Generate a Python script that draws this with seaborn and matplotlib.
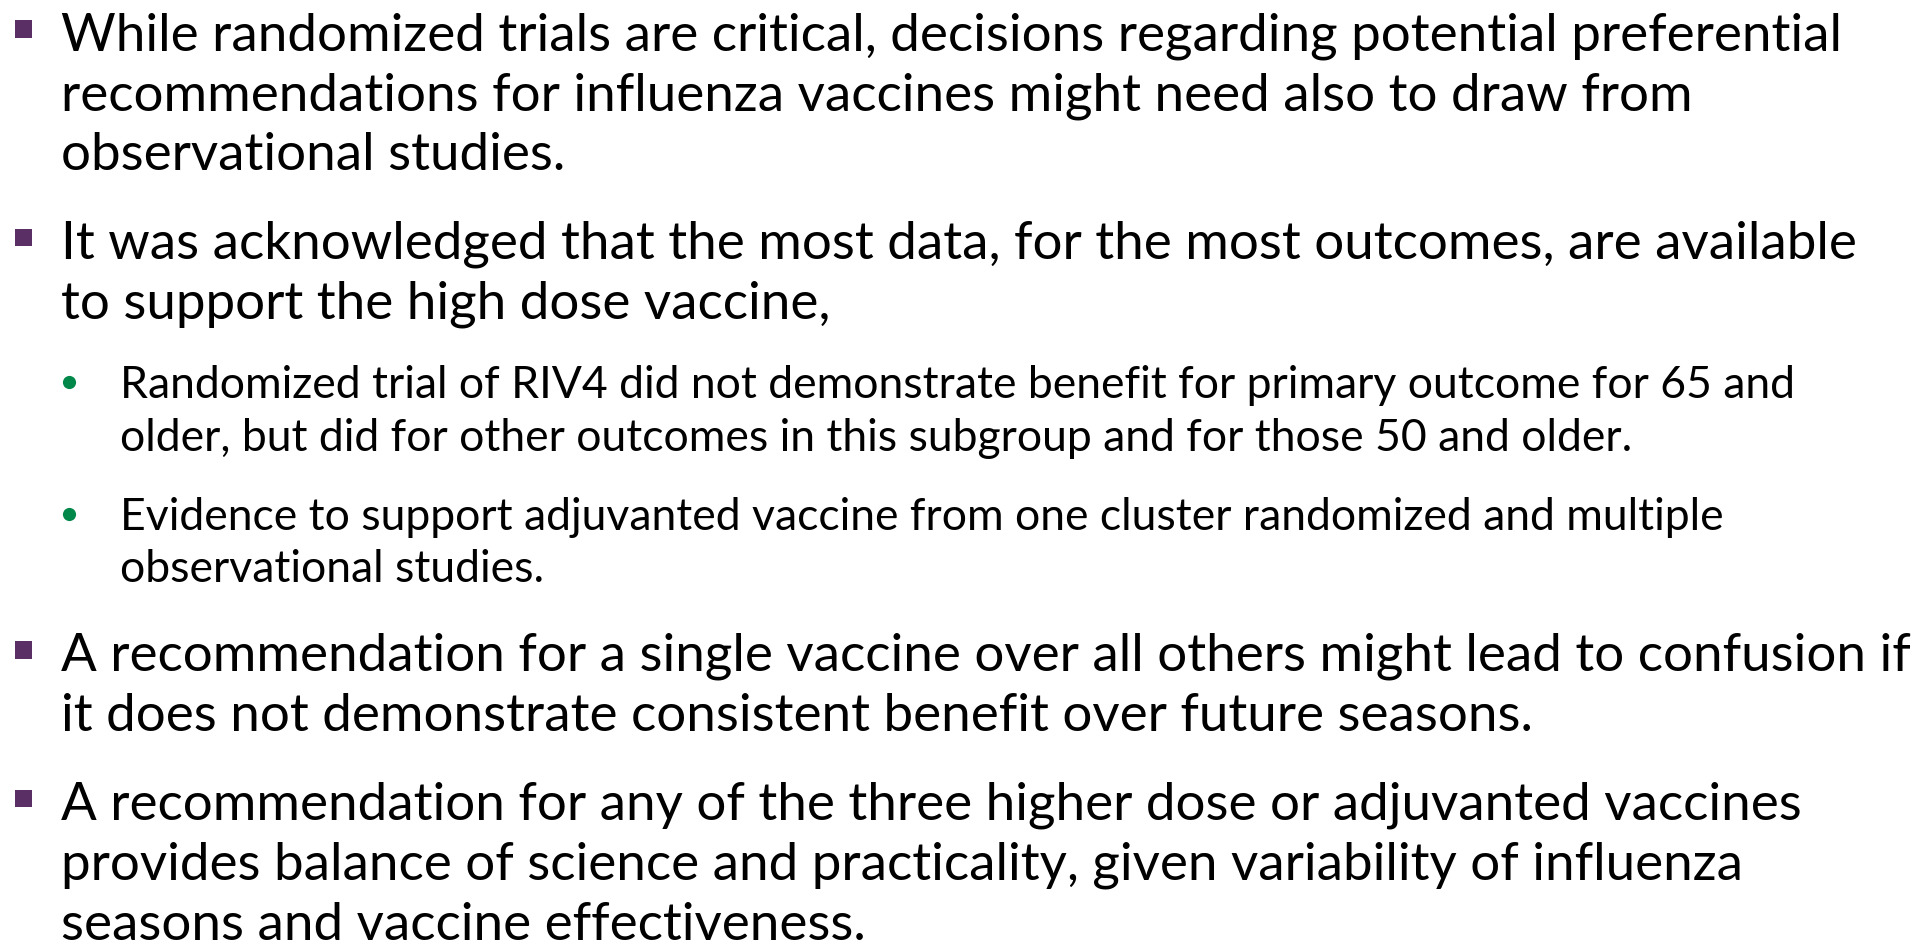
import matplotlib
matplotlib.use("Agg")
import matplotlib.pyplot as plt
import seaborn as sns
import pandas as pd

sns.set_theme(style="white")
plt.rcParams['font.family'] = ['Lato', 'DejaVu Sans']

# ---- content ----
para_levels = [1, 1, 2, 2, 1, 1]
para_1 = [
    "While randomized trials are critical, decisions regarding potential preferential",
    "recommendations for influenza vaccines might need also to draw from",
    "observational studies.",
]
para_2 = [
    "It was acknowledged that the most data, for the most outcomes, are available",
    "to support the high dose vaccine,",
]
para_3 = [
    "Randomized trial of RIV4 did not demonstrate benefit for primary outcome for 65 and",
    "older, but did for other outcomes in this subgroup and for those 50 and older.",
]
para_4 = [
    "Evidence to support adjuvanted vaccine from one cluster randomized and multiple",
    "observational studies.",
]
para_5 = [
    "A recommendation for a single vaccine over all others might lead to confusion if",
    "it does not demonstrate consistent benefit over future seasons.",
]
para_6 = [
    "A recommendation for any of the three higher dose or adjuvanted vaccines",
    "provides balance of science and practicality, given variability of influenza",
    "seasons and vaccine effectiveness.",
]
paragraphs = [para_1, para_2, para_3, para_4, para_5, para_6]

# ---- layout ----
W, H = 1933, 948
fig = plt.figure(figsize=(W / 100, H / 100), dpi=100)
fig.patch.set_facecolor("white")
ax = fig.add_axes([0, 0, 1, 1])
ax.axis("off")

renderer = fig.canvas.get_renderer()


def fit_size(text, target_px):
    t = ax.text(0, 0, text, fontsize=20)
    w = t.get_window_extent(renderer).width
    t.remove()
    return 20 * target_px / w


size = {1: fit_size(para_1[0], 1786), 2: fit_size(para_3[0], 1677)}
text_x = {1: 61, 2: 120}
bullet_x = {1: 23.5, 2: 69.5}
bullet_dy = {1: -21, 2: -16}
line_step = {1: 60, 2: 52}
para_step = {1: 88.5, 2: 80}
colors = {1: "#5A2F66", 2: "#00874A"}
markers = {1: "s", 2: "o"}
marker_area = {1: 165, 2: 90}

rows = []
y = 50
for i, (lvl, lines) in enumerate(zip(para_levels, paragraphs)):
    if i > 0:
        y += para_step[lvl]
    rows.append({"x": bullet_x[lvl], "y": y + bullet_dy[lvl], "level": lvl})
    for j, line in enumerate(lines):
        if j > 0:
            y += line_step[lvl]
        ax.text(text_x[lvl], y, line, fontsize=size[lvl], color="black",
                va="baseline", ha="left")

bullets = pd.DataFrame(rows)
for lvl in (1, 2):
    sub = bullets[bullets["level"] == lvl]
    sns.scatterplot(data=sub, x="x", y="y", color=colors[lvl],
                    marker=markers[lvl], s=marker_area[lvl],
                    linewidth=0, edgecolor="none", legend=False, ax=ax)
ax.set_xlim(0, W)
ax.set_ylim(H, 0)
ax.axis("off")

fig.savefig("out.png", dpi=100, facecolor="white")
